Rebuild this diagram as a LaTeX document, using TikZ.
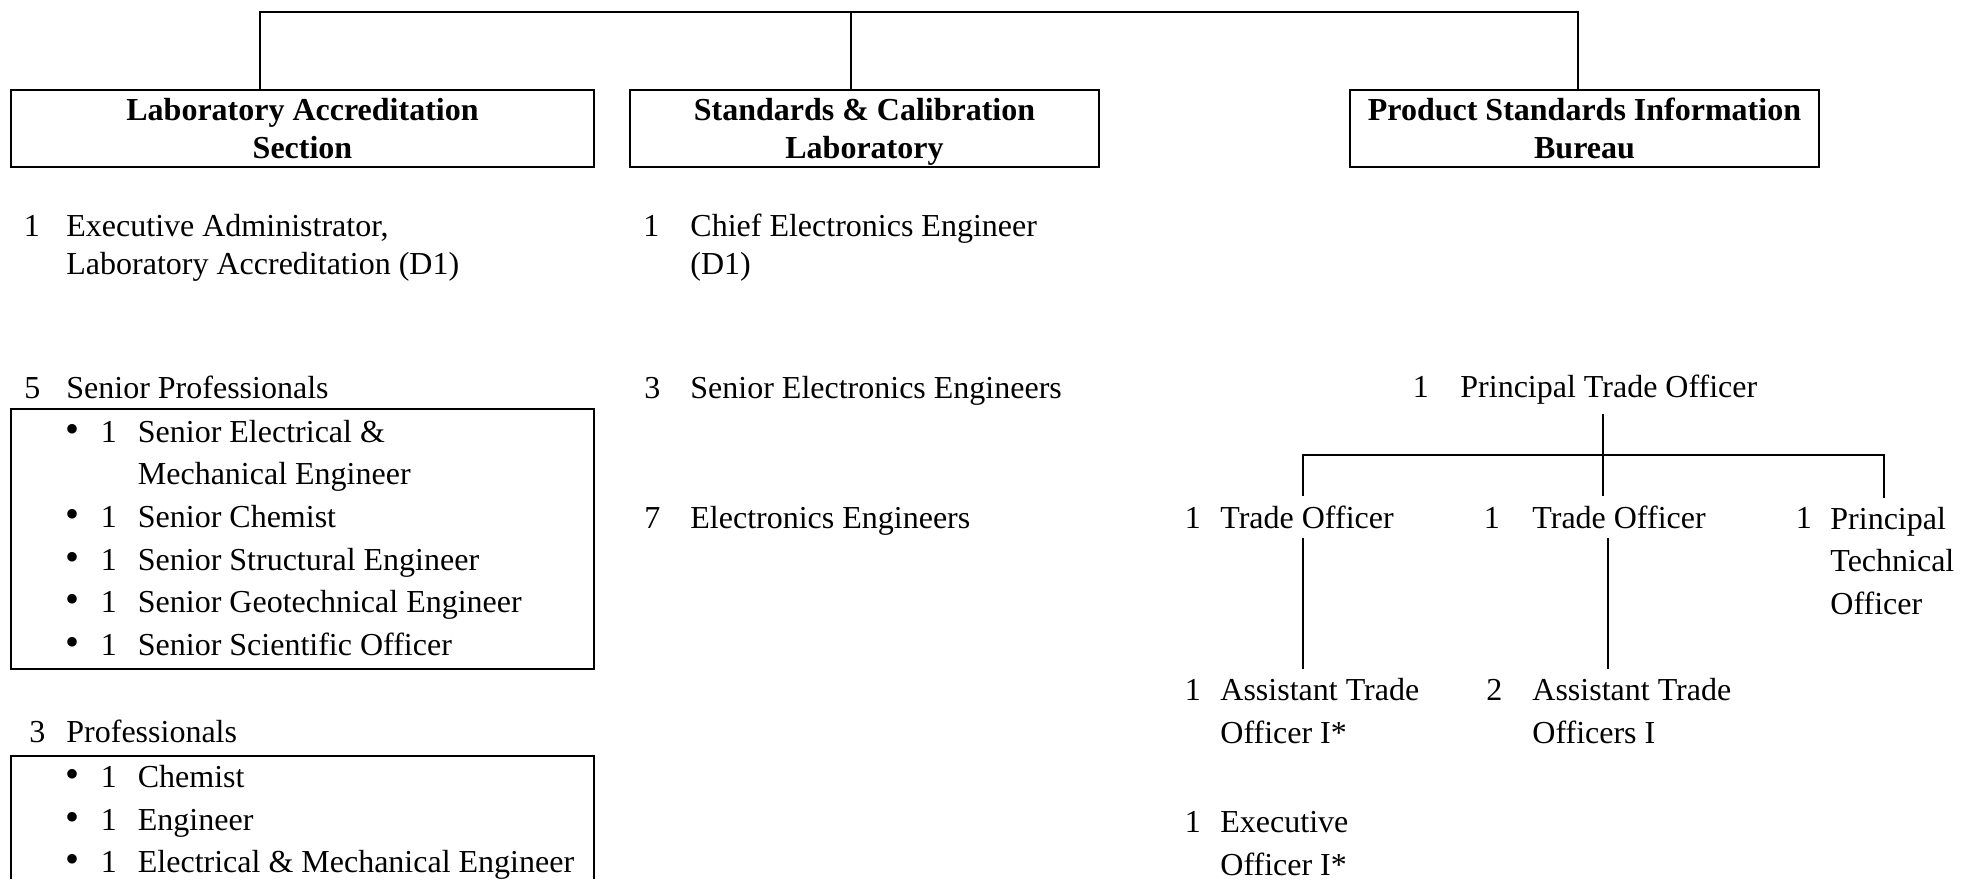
\documentclass[tikz,border=0pt]{standalone}
\usepackage{fontspec}
\setmainfont{Liberation Serif}
\usepackage{array}

\newcommand{\postfont}{\fontsize{16}{19}\selectfont}
\newcommand{\listfont}{\fontsize{16}{21.35}\selectfont}
\newcommand{\dotmark}{{\fontsize{20}{20}\selectfont\textbullet}}

\tikzset{
  sectbox/.style={draw, line width=1pt, minimum height=38.5pt, inner sep=0pt,
    align=center, text height=30pt, text depth=0pt, font=\bfseries\postfont},
  headcount/.style={anchor=base west, inner sep=0pt, font=\postfont},
  % multi-line texts sit on the baseline of their last line
  posttext/.style={anchor=base west, inner xsep=0pt, inner ysep=4.5pt, align=left, font=\postfont},
  bulletlist/.style={anchor=base west, inner sep=0pt, font=\listfont},
  link/.style={line width=0.8pt},
  listframe/.style={line width=1pt}
}

\begin{document}
\begin{tikzpicture}[x=0.5pt, y=-0.5pt]
\useasboundingbox (0,0) rectangle (1961,879);

% section boxes
\node[sectbox, minimum width=291.5pt] (lab) at (302.5,128.5) {Laboratory Accreditation\\Section};
\node[sectbox, minimum width=234.5pt] (cal) at (864.5,128.5) {Standards \& Calibration\\Laboratory};
\node[sectbox, minimum width=234.5pt] (psib) at (1584.5,128.5) {Product Standards Information\\Bureau};

\coordinate (busL) at (260,12);
\coordinate (busM) at (851,12);
\coordinate (busR) at (1578,12);
\draw[link] (busL |- lab.north) -- (busL) -- (busR) -- (busR |- psib.north);
\draw[link] (busM) -- (busM |- cal.north);

% laboratory accreditation
\node[headcount] (labN1) at (23.5,236.5) {1};
\node[posttext] (labExec) at (66,274.5) {Executive Administrator,\\Laboratory Accreditation (D1)};
\node[headcount] (labN2) at (24,398) {5};
\node[posttext] (labSenior) at (66,398) {Senior Professionals};
\draw[listframe] (11,409) rectangle (594,669);
\node[bulletlist] (seniorList) at (65,442) {%
  \begin{tabular}[t]{@{}p{17.75pt}@{}p{18.5pt}@{}l@{}}
  \dotmark & 1 & Senior Electrical \& \\
   & & Mechanical Engineer \\
  \dotmark & 1 & Senior Chemist \\
  \dotmark & 1 & Senior Structural Engineer \\
  \dotmark & 1 & Senior Geotechnical Engineer \\
  \dotmark & 1 & Senior Scientific Officer
  \end{tabular}};
\node[headcount] (labN3) at (29,742.5) {3};
\node[posttext] (labProf) at (66,742.5) {Professionals};
\draw[listframe] (11,879) -- (11,756) -- (594,756) -- (594,879);
\node[bulletlist] (profList) at (65,787.5) {%
  \begin{tabular}[t]{@{}p{17.75pt}@{}p{18.5pt}@{}l@{}}
  \dotmark & 1 & Chemist \\
  \dotmark & 1 & Engineer \\
  \dotmark & 1 & Electrical \& Mechanical Engineer
  \end{tabular}};

% standards and calibration
\node[headcount] (calN1) at (643,236.5) {1};
\node[posttext] (calChief) at (690,274.5) {Chief Electronics Engineer\\(D1)};
\node[headcount] (calN2) at (644,398) {3};
\node[posttext] (calSenior) at (690,398) {Senior Electronics Engineers};
\node[headcount] (calN3) at (644,528.5) {7};
\node[posttext] (calEng) at (690,528.5) {Electronics Engineers};

% product standards information bureau
\node[headcount] (pN1) at (1412.5,397.5) {1};
\node[posttext] (pto) at (1460,397.5) {Principal Trade Officer};
\node[headcount] (pN2) at (1184.5,528) {1};
\node[posttext] (toA) at (1220,528) {Trade Officer};
\node[headcount] (pN3) at (1483.5,528) {1};
\node[posttext] (toB) at (1532,528) {Trade Officer};
\node[headcount] (pN4) at (1795.5,528) {1};
\node[posttext, font=\listfont] (pTech) at (1830,614.5) {Principal\\Technical\\Officer};
\node[headcount] (pN5) at (1184.5,700.5) {1};
\node[posttext, font=\listfont] (atoA) at (1220,743) {Assistant Trade\\Officer I*};
\node[headcount] (pN6) at (1486,700.5) {2};
\node[posttext, font=\listfont] (atoB) at (1532,743) {Assistant Trade\\Officers I};
\node[headcount] (pN7) at (1184.5,832.5) {1};
\node[posttext, font=\listfont] (exo) at (1220,875) {Executive\\Officer I*};

\coordinate (jL) at (1303,455);
\coordinate (jM) at (1603,455);
\coordinate (jR) at (1884,455);
\coordinate (dropB) at (1608,540);
\draw[link] (jM |- pto.south) -- (jM);
\draw[link] (jL |- toA.north) -- (jL) -- (jR) -- (jR |- pTech.north);
\draw[link] (jM) -- (jM |- toB.north);
\draw[link] (toA.south -| jL) -- (jL |- atoA.north);
\draw[link] (toB.south -| dropB) -- (dropB |- atoB.north);
\end{tikzpicture}
\end{document}
